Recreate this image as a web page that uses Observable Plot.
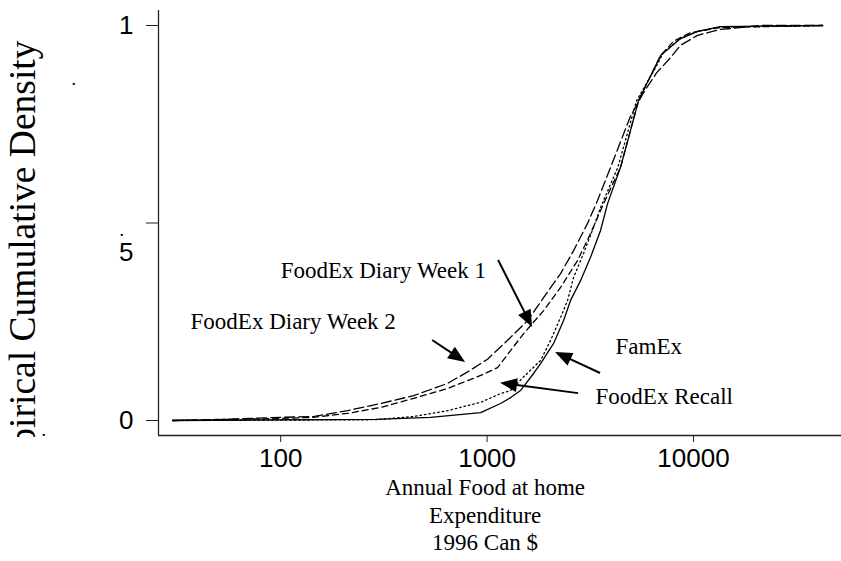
<!DOCTYPE html>
<html>
<head>
<meta charset="utf-8">
<script src="https://cdn.jsdelivr.net/npm/d3@7"></script>
<script src="https://cdn.jsdelivr.net/npm/@observablehq/plot@0.6"></script>
<style>
  html, body { margin: 0; padding: 0; background: #fff; }
  #chart { width: 841px; height: 561px; }
</style>
</head>
<body>
<div id="chart"></div>
<script>
// ---- Data ----
const week2X = [30, 55, 100, 144, 211, 305, 441, 644, 805, 1005, 1256, 1571, 1878, 2271, 2624, 3066, 3428, 3964, 4950, 5725, 6620, 7745, 8650, 10450, 13500, 21100, 42200];
const week2Y = [0, 0.003, 0.008, 0.010, 0.025, 0.043, 0.063, 0.094, 0.123, 0.155, 0.203, 0.253, 0.311, 0.372, 0.430, 0.499, 0.557, 0.641, 0.77, 0.83, 0.88, 0.919, 0.95, 0.975, 0.99, 1.0, 1.0];

const week1X = [30, 55, 100, 144, 211, 305, 441, 644, 931, 1124, 1503, 1878, 2271, 2742, 3170, 3666, 4430, 5415, 6925, 8005, 9670, 13500, 42200];
const week1Y = [0, 0.003, 0.005, 0.008, 0.018, 0.033, 0.056, 0.081, 0.114, 0.134, 0.220, 0.278, 0.337, 0.405, 0.473, 0.549, 0.641, 0.81, 0.924, 0.96, 0.982, 0.995, 1.0];

const recallX = [30, 100, 288, 441, 644, 931, 1162, 1300, 1500, 1816, 2031, 2271, 2454, 2624, 2933, 3279, 3545, 4300, 5300, 6500, 7160, 8650, 10450, 13500, 42200];
const recallY = [0, 0.001, 0.002, 0.010, 0.025, 0.046, 0.068, 0.076, 0.11, 0.152, 0.203, 0.261, 0.304, 0.362, 0.423, 0.489, 0.539, 0.641, 0.81, 0.89, 0.932, 0.967, 0.985, 0.996, 1.0];

const famexX = [30, 288, 532, 931, 1162, 1300, 1453, 1680, 1816, 2100, 2347, 2537, 2836, 3170, 3545, 3834, 4430, 5415, 6925, 8650, 10450, 13500, 42200];
const famexY = [0, 0.003, 0.008, 0.020, 0.043, 0.058, 0.076, 0.119, 0.144, 0.195, 0.253, 0.304, 0.354, 0.413, 0.481, 0.549, 0.641, 0.81, 0.924, 0.967, 0.985, 0.997, 1.0];

const xTicks = [100, 1000, 10000];
const yTicks = [0, 0.5, 1];

// annotation labels
const labelText = ["FoodEx Diary Week 1", "FoodEx Diary Week 2", "FamEx", "FoodEx Recall"];
const labelX = [100, 36.6, 4188, 3354];
const labelY = [0.380, 0.2506, 0.187, 0.0608];

// arrows: start (x1,y1) -> tip (x2,y2)
const arrowX1 = [1137, 545, 3545, 2775];
const arrowY1 = [0.405, 0.2025, 0.119, 0.068];
const arrowX2 = [1661, 787, 2146, 1162];
const arrowY2 = [0.2354, 0.147, 0.172, 0.094];

const xTitle = "Annual Food at home\nExpenditure\n1996 Can $";
const yTitle = "Empirical Cumulative Density";

// ---- Build ----
const toRows = (xs, ys) => xs.map((x, i) => ({x, y: ys[i]}));
const week2 = toRows(week2X, week2Y);
const week1 = toRows(week1X, week1Y);
const recall = toRows(recallX, recallY);
const famex = toRows(famexX, famexY);
const labels = labelText.map((t, i) => ({t, x: labelX[i], y: labelY[i]}));

const xDomain = [25.6, 52100];
const yDomain = [-0.038, 1.038];

const serif = "'Liberation Serif', 'Times New Roman', Times, serif";
const sans = "'Liberation Sans', Arial, Helvetica, sans-serif";

function arrowsMark(index, scales) {
  const {x, y} = scales;
  const g = d3.create("svg:g");
  for (let i = 0; i < arrowX1.length; i++) {
    const x1 = x(arrowX1[i]), y1 = y(arrowY1[i]);
    const x2 = x(arrowX2[i]), y2 = y(arrowY2[i]);
    const a = Math.atan2(y2 - y1, x2 - x1);
    const L = 17, W = 7;
    const bx = x2 - L * Math.cos(a), by = y2 - L * Math.sin(a);
    g.append("line")
      .attr("x1", x1).attr("y1", y1).attr("x2", bx + 2 * Math.cos(a)).attr("y2", by + 2 * Math.sin(a))
      .attr("stroke", "black").attr("stroke-width", 2);
    g.append("path")
      .attr("d", `M${x2},${y2}L${bx + W * Math.sin(a)},${by - W * Math.cos(a)}L${bx - W * Math.sin(a)},${by + W * Math.cos(a)}Z`)
      .attr("fill", "black");
  }
  return g.node();
}

const lineOpts = {x: "x", y: "y", stroke: "black", strokeWidth: 1.3};

const chart = Plot.plot({
  width: 841,
  height: 561,
  marginLeft: 158,
  marginRight: 0,
  marginTop: 10,
  marginBottom: 126,
  style: {background: "#fff", color: "black"},
  x: {type: "log", domain: xDomain, axis: null},
  y: {domain: yDomain, axis: null},
  marks: [
    // axis lines (L-shaped)
    Plot.ruleX([xDomain[0]], {stroke: "#222", strokeWidth: 1.3}),
    Plot.ruleY([yDomain[0]], {stroke: "#222", strokeWidth: 1.3}),
    Plot.axisX(xTicks, {label: null, tickSize: 7, tickPadding: 6, tickFormat: d => String(d), fontSize: 26, fontFamily: sans, stroke: "#222"}),
    Plot.axisY(yTicks, {label: null, tickSize: 12, tickPadding: 13, tickFormat: d => d === 0.5 ? "" : String(d), fontSize: 26, fontFamily: sans, stroke: "#222"}),
    // the odd ".5" label
    Plot.text(["5"], {frameAnchor: "left", y: [0.425], dx: -25, textAnchor: "end", fontSize: 26, fontFamily: sans, fill: "black"}),
    Plot.text(["."], {frameAnchor: "left", y: [0.478], dx: -39, dy: -1, fontSize: 18, fontFamily: serif, fill: "black"}),
    Plot.text(["."], {frameAnchor: "top-left", dx: -87, dy: 62, fontSize: 18, fontFamily: serif, fill: "black"}),
    Plot.text(["."], {frameAnchor: "top-left", dx: -117, dy: 413, fontSize: 18, fontFamily: serif, fill: "black"}),
    // curves
    Plot.line(week2, {...lineOpts, strokeDasharray: "10,4"}),
    Plot.line(week1, {...lineOpts, strokeDasharray: "6,4"}),
    Plot.line(recall, {...lineOpts, strokeDasharray: "1.5,3"}),
    Plot.line(famex, {...lineOpts}),
    // annotations
    Plot.text(labels, {x: "x", y: "y", text: "t", textAnchor: "start", fontSize: 23, fontFamily: serif, fill: "black"}),
    arrowsMark,
    // axis titles
    Plot.text([xTitle], {x: [978], frameAnchor: "bottom", dy: 40, lineAnchor: "top", lineHeight: 1.2, fontSize: 23, fontFamily: serif, fill: "black"}),
    Plot.text([yTitle], {frameAnchor: "top-left", dx: -124, dy: 30, rotate: -90, textAnchor: "end", lineAnchor: "bottom", fontSize: 37.5, fontFamily: serif, fill: "black"})
  ]
});

document.getElementById("chart").appendChild(chart);

// clip the y title at the bottom, like the original
const svg = d3.select(chart.tagName.toLowerCase() === "svg" ? chart : chart.querySelector("svg"));
const defs = svg.insert("defs", ":first-child");
defs.append("clipPath").attr("id", "ytitle-clip")
  .append("rect").attr("x", 0).attr("y", 0).attr("width", 841).attr("height", 437);
svg.selectAll("text").filter(function() { return this.textContent === yTitle; }).each(function() {
  const markG = this.closest("g") || this;
  const wrap = svg.append("g").attr("clip-path", "url(#ytitle-clip)");
  wrap.node().appendChild(markG);
});
</script>
</body>
</html>
